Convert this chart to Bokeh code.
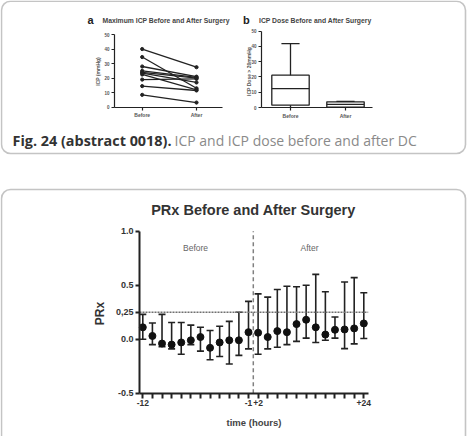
import math
from bokeh.plotting import figure
from bokeh.models import (Range1d, LinearAxis, FixedTicker, BoxAnnotation, Label,
                          ColumnDataSource, Whisker, TeeHead)
from bokeh.embed import file_html
from bokeh.resources import INLINE

W, H = 469, 436

# ---------------- data ----------------
# (a) maximum ICP per patient, before and after surgery (mmHg)
icp_groups = ["Before", "After"]
icp_before = [40, 34.5, 28, 25, 24, 23.5, 22.5, 19, 14.5, 8.5]
icp_after = [27.5, 13, 21, 20.5, 20, 17, 12, 19.5, 11.5, 3.2]
icp_ticks = [0, 10, 20, 30, 40, 50]

# (b) ICP dose > 20 mmHg, box summary
dose_groups = ["Before", "After"]
dose_min = [0, 0]
dose_q1 = [1.5, 0.2]
dose_median = [12.4, 2.0]
dose_q3 = [21.2, 3.7]
dose_max = [41.9, 4.0]

# PRx, hourly before surgery and two-hourly after surgery
prx_hours = ["-12", "-11", "-10", "-9", "-8", "-7", "-6", "-5", "-4", "-3", "-2", "-1",
             "+2", "+4", "+6", "+8", "+10", "+12", "+14", "+16", "+18", "+20", "+22", "+24"]
prx_mean = [0.11, 0.03, -0.04, -0.05, -0.03, -0.01, 0.02, -0.08, -0.03, -0.01, -0.01, 0.065,
            0.06, 0.02, 0.075, 0.065, 0.14, 0.18, 0.11, 0.043, 0.087, 0.09, 0.10, 0.146]
prx_upper = [0.23, 0.15, 0.23, 0.155, 0.155, 0.13, 0.11, 0.08, 0.12, 0.165, 0.25, 0.35,
             0.42, 0.39, 0.46, 0.49, 0.485, 0.50, 0.60, 0.44, 0.205, 0.53, 0.57, 0.43]
prx_lower = [0.0, -0.05, -0.07, -0.09, -0.14, -0.05, -0.11, -0.19, -0.16, -0.23, -0.15, -0.09,
             -0.14, -0.09, -0.075, -0.05, -0.02, 0.01, -0.03, -0.01, 0.01, -0.087, -0.043, 0.006]
prx_threshold = 0.25
prx_y_ticks = [-0.5, 0.0, 0.25, 0.5, 1.0]
prx_y_labels = ["-0.5", "0.0", "0,25", "0.5", "1.0"]

# ---------------- canvas ----------------
p = figure(width=W, height=H, output_backend="svg", toolbar_location=None,
           x_range=Range1d(0, W), y_range=Range1d(0, H),
           x_axis_type=None, y_axis_type=None, min_border=0)
p.outline_line_color = None
p.grid.visible = False
p.background_fill_color = "white"
p.border_fill_color = "white"


def Y(py):
    """top-down pixel row -> canvas y"""
    return H - py


def xrange_for(v0, px0, v1, px1):
    s = (px1 - px0) / (v1 - v0)
    return Range1d(v0 + (0 - px0) / s, v0 + (W - px0) / s)


def yrange_for(v0, py0, v1, py1):
    s = (py1 - py0) / (v1 - v0)
    return Range1d(v0 + (H - py0) / s, v0 + (0 - py0) / s)


CHART_FONT = "Liberation Sans"

# ---------------- frames ----------------
p.add_layout(BoxAnnotation(left=1, right=465, top=Y(0.8), bottom=Y(153),
                           fill_color=None, line_color="#3a3a3a", line_width=1.6,
                           border_radius=9))
p.add_layout(BoxAnnotation(left=1, right=465, top=Y(189), bottom=Y(460),
                           fill_color=None, line_color="#3a3a3a", line_width=1.6,
                           border_radius=9))


def style_axis(ax, size, lw, tick_out, color="#222222", label_color="#333333"):
    ax.axis_line_width = lw
    ax.axis_line_color = color
    ax.major_tick_line_width = lw
    ax.major_tick_line_color = color
    ax.major_tick_out = tick_out
    ax.major_tick_in = 0
    ax.minor_tick_line_color = None
    ax.major_label_text_font = CHART_FONT
    ax.major_label_text_font_style = "bold"
    ax.major_label_text_font_size = size
    ax.major_label_text_color = label_color
    ax.major_label_standoff = 2


# ---------------- (a) Maximum ICP ----------------
a_px = (141.7, 196.0)
p.extra_x_ranges["a_x"] = xrange_for(0, a_px[0], 1, a_px[1])
p.extra_y_ranges["a_y"] = yrange_for(0, 106.7, 50, 34.0)
a_left = (114 - a_px[0]) / (a_px[1] - a_px[0])
a_right = (222 - a_px[0]) / (a_px[1] - a_px[0])

for b, a in zip(icp_before, icp_after):
    p.line([0, 1], [b, a], x_range_name="a_x", y_range_name="a_y",
           line_color="#222222", line_width=1.3)
p.scatter([0] * len(icp_before), icp_before, x_range_name="a_x", y_range_name="a_y",
          size=3.2, color="#222222")
p.scatter([1] * len(icp_after), icp_after, x_range_name="a_x", y_range_name="a_y",
          size=3.2, color="#222222")

ay = LinearAxis(x_range_name="a_x", y_range_name="a_y", fixed_location=a_left,
                bounds=(0, 50), ticker=FixedTicker(ticks=icp_ticks))
style_axis(ay, "4.5px", 1.2, 3, label_color="#555555")
p.add_layout(ay, "left")
ax_a = LinearAxis(x_range_name="a_x", y_range_name="a_y", fixed_location=0,
                  bounds=(a_left, a_right), ticker=FixedTicker(ticks=[0, 1]),
                  major_label_overrides={0: icp_groups[0], 1: icp_groups[1]})
style_axis(ax_a, "5px", 1.2, 3, label_color="#555555")
p.add_layout(ax_a, "below")

# ---------------- (b) ICP dose ----------------
b_px = (290.0, 345.0)
p.extra_x_ranges["b_x"] = xrange_for(0, b_px[0], 1, b_px[1])
p.extra_y_ranges["b_y"] = yrange_for(0, 107.0, 50, 30.7)
b_left = (261 - b_px[0]) / (b_px[1] - b_px[0])
b_right = (372 - b_px[0]) / (b_px[1] - b_px[0])

bx = list(range(len(dose_groups)))
half_box = 0.34
half_cap = 0.165
p.quad(left=[x - half_box for x in bx], right=[x + half_box for x in bx],
       bottom=dose_q1, top=dose_q3, x_range_name="b_x", y_range_name="b_y",
       fill_color=None, line_color="#222222", line_width=1.3)
p.segment(x0=[x - half_box for x in bx], x1=[x + half_box for x in bx],
          y0=dose_median, y1=dose_median, x_range_name="b_x", y_range_name="b_y",
          line_color="#222222", line_width=1.3)
p.segment(x0=bx, x1=bx, y0=dose_q3, y1=dose_max, x_range_name="b_x", y_range_name="b_y",
          line_color="#222222", line_width=1.3)
p.segment(x0=bx, x1=bx, y0=dose_q1, y1=dose_min, x_range_name="b_x", y_range_name="b_y",
          line_color="#222222", line_width=1.3)
p.segment(x0=[x - half_cap for x in bx], x1=[x + half_cap for x in bx],
          y0=dose_max, y1=dose_max, x_range_name="b_x", y_range_name="b_y",
          line_color="#222222", line_width=1.3)

by = LinearAxis(x_range_name="b_x", y_range_name="b_y", fixed_location=b_left,
                bounds=(0, 50), ticker=FixedTicker(ticks=icp_ticks))
style_axis(by, "4.5px", 1.2, 3, label_color="#555555")
p.add_layout(by, "left")
bxa = LinearAxis(x_range_name="b_x", y_range_name="b_y", fixed_location=0,
                 bounds=(b_left, b_right), ticker=FixedTicker(ticks=[0, 1]),
                 major_label_overrides={0: dose_groups[0], 1: dose_groups[1]})
style_axis(bxa, "5px", 1.2, 3, label_color="#555555")
p.add_layout(bxa, "below")

# ---------------- PRx ----------------
p.extra_x_ranges["r_x"] = xrange_for(0, 142.3, 23, 363.3)
p.extra_y_ranges["r_y"] = yrange_for(0, 338.7, 1.0, 230.7)
idx_per_px = 23 / (363.3 - 142.3)
r_left = (139 - 142.3) * idx_per_px
r_right = (367.7 - 142.3) * idx_per_px
split = (len(prx_hours) - 1) / 2

ri = list(range(len(prx_hours)))
p.line([r_left, r_right], [prx_threshold, prx_threshold], x_range_name="r_x",
       y_range_name="r_y", line_color="#707070", line_width=1.6, line_dash="2 1")
p.line([split, split], [prx_y_ticks[0], prx_y_ticks[-1]], x_range_name="r_x",
       y_range_name="r_y", line_color="#808080", line_width=1.5, line_dash="4 3")

src = ColumnDataSource(dict(x=ri, mean=prx_mean, upper=prx_upper, lower=prx_lower))
p.add_layout(Whisker(source=src, base="x", upper="upper", lower="lower",
                     dimension="height", x_range_name="r_x", y_range_name="r_y",
                     line_color="#222222", line_width=1.6,
                     upper_head=TeeHead(size=7, line_color="#222222", line_width=1.6),
                     lower_head=TeeHead(size=7, line_color="#222222", line_width=1.6)))
p.scatter("x", "mean", source=src, x_range_name="r_x", y_range_name="r_y",
          marker="circle", size=7, color="#111111")

ry = LinearAxis(x_range_name="r_x", y_range_name="r_y", fixed_location=r_left,
                bounds=(prx_y_ticks[0], prx_y_ticks[-1]),
                ticker=FixedTicker(ticks=prx_y_ticks),
                major_label_overrides={t: s for t, s in zip(prx_y_ticks, prx_y_labels)})
style_axis(ry, "9px", 2, 4, label_color="#333333")
p.add_layout(ry, "left")
shown = {0: prx_hours[0], 11: prx_hours[11], 12: prx_hours[12], 23: prx_hours[23]}
rx = LinearAxis(x_range_name="r_x", y_range_name="r_y", fixed_location=prx_y_ticks[0],
                bounds=(r_left, r_right), ticker=FixedTicker(ticks=ri),
                major_label_overrides={i: shown.get(i, "") for i in ri})
style_axis(rx, "8.5px", 2, 5, label_color="#333333")
p.add_layout(rx, "below")

# ---------------- texts ----------------
def txt(x, y, text, size, bold=False, color="#222222", font=CHART_FONT, align="left",
        angle=0.0, baseline="middle"):
    p.add_layout(Label(x=x, y=Y(y), text=text, text_font=font, text_font_size=size,
                       text_font_style="bold" if bold else "normal", text_color=color,
                       text_align=align, text_baseline=baseline, angle=angle))


txt(87, 19, "a", "11px", bold=True)
txt(102, 19.5, "Maximum ICP Before and After Surgery", "6.8px", bold=True, color="#444444")
txt(97, 71, "ICP (mmHg)", "5px", bold=True, color="#555555", align="center", angle=math.pi / 2)
txt(242.5, 19, "b", "11px", bold=True)
txt(258.5, 19.5, "ICP Dose Before and After Surgery", "6.8px", bold=True, color="#444444")
txt(248, 71, "ICP Dose > 20mmHg", "5px", bold=True, color="#555555", align="center",
    angle=math.pi / 2)

txt(12, 140, "Fig. 24 (abstract 0018).", "14.4px", bold=True, color="#333333",
    font="Open Sans", baseline="alphabetic")
txt(174, 140, "ICP and ICP dose before and after DC", "14px", color="#8a8a8a",
    font="Open Sans", baseline="alphabetic")

txt(253, 209, "PRx Before and After Surgery", "14.5px", bold=True, color="#333333", align="center")
txt(99, 313, "PRx", "12px", bold=True, color="#333333", align="center", angle=math.pi / 2)
txt(195, 247.5, "Before", "8.5px", color="#666666", align="center")
txt(309, 247.5, "After", "8.5px", color="#666666", align="center")
txt(253.5, 421.5, "time (hours)", "9.5px", bold=True, color="#444444", align="center")

open("out.html", "w").write(file_html(p, INLINE))
